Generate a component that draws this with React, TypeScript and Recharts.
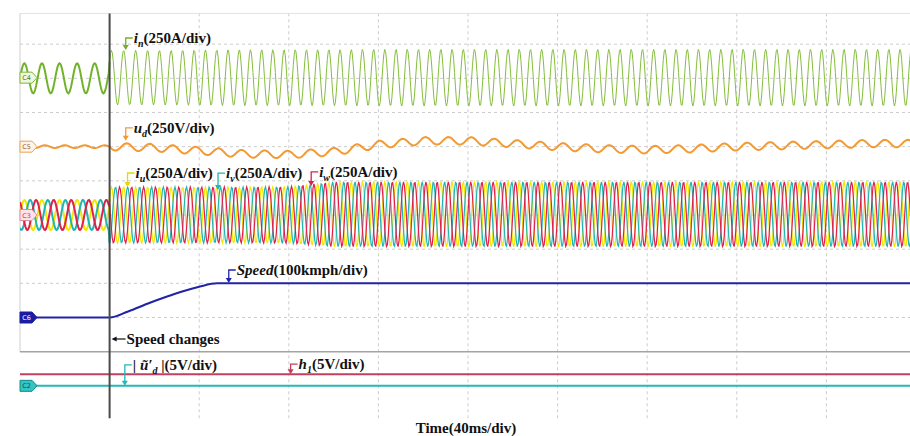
import React from 'react';
import { LineChart, Line, XAxis, YAxis, ReferenceLine } from 'recharts';

// time axis in divisions (40ms/div), y axis in divisions; speed step at t = 1 div
const KNOTS = [0, 1, 1, 1.5, 2, 2.5, 3, 3.5, 4, 4.5, 5, 5.5, 6, 6.5, 7, 7.5, 8, 8.5, 9, 9.5, 10];

// C4: i_n envelope
const inCenter = [8, 8, 8.02, 8.02, 8.02, 8.02, 8.02, 8.02, 8.02, 8.02, 8.02, 8.02, 8.02, 8.02, 8.02, 8.02, 8.02, 8.02, 8.02, 8.02, 8.02];
const inAmp = [0.44, 0.44, 0.8, 0.8, 0.81, 0.82, 0.82, 0.82, 0.83, 0.83, 0.83, 0.83, 0.83, 0.83, 0.83, 0.83, 0.83, 0.83, 0.83, 0.83, 0.83];

// current frequency, cycles per division
const curFreq = [5.1, 5.1, 7.3, 7.6, 7.9, 8, 8, 8, 8, 8, 8, 8, 8, 8, 8, 8, 8, 8, 8, 8, 8];

// C3: i_u, i_v, i_w envelope
const phCenter = [4, 4, 4, 4, 4, 4, 4, 4.02, 4.02, 4.02, 4.02, 4.02, 4.02, 4.02, 4.02, 4.02, 4.02, 4.02, 4.02, 4.02, 4.02];
const phAmp = [0.44, 0.44, 0.82, 0.82, 0.82, 0.82, 0.83, 0.95, 0.95, 0.95, 0.95, 0.95, 0.95, 0.95, 0.95, 0.95, 0.95, 0.95, 0.95, 0.95, 0.95];

// C5: u_d
const udCenter = [6, 6, 6, 5.97, 5.88, 5.79, 5.77, 5.85, 6.06, 6.17, 6.17, 6.09, 6, 5.94, 5.91, 5.94, 6, 6.03, 6.06, 6.09, 6.09];
const udAmp = [0.04, 0.04, 0.11, 0.11, 0.11, 0.11, 0.11, 0.11, 0.11, 0.11, 0.11, 0.11, 0.11, 0.11, 0.11, 0.11, 0.11, 0.11, 0.11, 0.11, 0.11];
const udFreq = [4.5, 4.5, 3.9, 3.9, 3.9, 3.9, 3.9, 3.9, 3.9, 3.9, 3.9, 3.9, 3.9, 3.9, 3.9, 3.9, 3.9, 3.9, 3.9, 3.9, 3.9];

// C6: speed readings
const speedT = [0, 1, 1.2, 1.45, 1.65, 1.82, 2, 2.2, 2.4, 10];
const speedV = [1, 1, 1.17, 1.43, 1.62, 1.77, 1.9, 2, 2, 2];

// bottom pane: |u_d'| (C2) and h1
const flatT = [0, 10];
const udAbsV = [-1, -1];
const h1V = [-0.66, -0.66];

const W = 920;
const H = 436;
const M = { top: 10, right: 4, bottom: 16, left: 20 };
const Y_MIN = -2;
const Y_MAX = 10;
const px = (d: number) => M.left + (d / 10) * (W - M.left - M.right);
const py = (u: number) => M.top + ((Y_MAX - u) / (Y_MAX - Y_MIN)) * (H - M.top - M.bottom);

const lerp = (xs: number[], ys: number[], x: number) => {
    let i = 0;
    while (i < xs.length - 2 && xs[i + 1] <= x) i++;
    const x0 = xs[i];
    const x1 = xs[i + 1];
    const t = x1 === x0 ? 0 : Math.max(0, Math.min(1, (x - x0) / (x1 - x0)));
    return ys[i] + (ys[i + 1] - ys[i]) * t;
};

const wave = (center: number[], amp: number[], freq: number[], offset: number, from: number, to: number) => {
    const pts: { x: number; y: number }[] = [];
    let phase = 0;
    for (let i = 0; i <= 1000; i++) {
        const x = i / 100;
        if (x >= from && x <= to) {
            pts.push({ x, y: lerp(KNOTS, center, x) + lerp(KNOTS, amp, x) * Math.sin(phase + offset) });
        }
        phase += 2 * Math.PI * lerp(KNOTS, freq, x) * 0.01;
    }
    return pts;
};

const pairs = (xs: number[], ys: number[]) => xs.map((x, i) => ({ x, y: ys[i] }));

const TP = (2 * Math.PI) / 3;
const series = [
    { key: 'inPre', data: wave(inCenter, inAmp, curFreq, 0, 0, 1), color: '#72b22a', w: 2, type: 'linear' },
    { key: 'inPost', data: wave(inCenter, inAmp, curFreq, 0, 1, 10), color: '#86be3c', w: 1, type: 'linear' },
    { key: 'udPre', data: wave(udCenter, udAmp, udFreq, 0, 0, 1), color: '#f39a33', w: 2, type: 'linear' },
    { key: 'udPost', data: wave(udCenter, udAmp, udFreq, 0, 1, 10), color: '#f39a33', w: 2, type: 'linear' },
    { key: 'iuPre', data: wave(phCenter, phAmp, curFreq, 0, 0, 1), color: '#f3e600', w: 2, type: 'linear' },
    { key: 'ivPre', data: wave(phCenter, phAmp, curFreq, -TP, 0, 1), color: '#20b4b4', w: 2, type: 'linear' },
    { key: 'iwPre', data: wave(phCenter, phAmp, curFreq, TP, 0, 1), color: '#e0204c', w: 2, type: 'linear' },
    { key: 'iuPost', data: wave(phCenter, phAmp, curFreq, 0, 1, 10), color: '#f3e600', w: 1.2, type: 'linear' },
    { key: 'ivPost', data: wave(phCenter, phAmp, curFreq, -TP, 1, 10), color: '#20b4b4', w: 1.2, type: 'linear' },
    { key: 'iwPost', data: wave(phCenter, phAmp, curFreq, TP, 1, 10), color: '#e0204c', w: 1.2, type: 'linear' },
    { key: 'speed', data: pairs(speedT, speedV), color: '#2323a8', w: 2, type: 'monotone' },
    { key: 'h1', data: pairs(flatT, h1V), color: '#c2405e', w: 2, type: 'linear' },
    { key: 'udAbs', data: pairs(flatT, udAbsV), color: '#22b8b8', w: 2, type: 'linear' },
];

const GRID = [1, 2, 3, 4, 5, 6, 7, 8, 9];
const gridStyle = { stroke: '#cccccc', strokeDasharray: '3 3', strokeWidth: 1 };

const badges = [
    { name: 'C4', u: 8.02, fill: '#eef7e4', stroke: '#7cb82f', text: '#4c7a1a' },
    { name: 'C5', u: 6, fill: '#fff4ea', stroke: '#f0a050', text: '#a0602a' },
    { name: 'C3', u: 4, fill: '#fde2e8', stroke: '#e48aa0', text: '#c04060' },
    { name: 'C6', u: 1, fill: '#1c1ca0', stroke: '#1c1ca0', text: '#ffffff' },
    { name: 'C2', u: -1, fill: '#33c4c4', stroke: '#138a8a', text: '#0b4f4f' },
];

const font = '"Liberation Serif", "Times New Roman", serif';
const FS = 15;

const Pointer = ({ d, u, rise, color, children }: { d: number; u: number; rise: number; color: string; children: React.ReactNode }) => {
    const x = px(d);
    const y = py(u);
    const top = y - rise;
    return (
        <g>
            <polyline points={`${x + 7},${top} ${x},${top} ${x},${y - 3}`} fill="none" stroke={color} strokeWidth={1.3} />
            <polygon points={`${x - 3},${y - 5} ${x + 3},${y - 5} ${x},${y}`} fill={color} />
            <text x={x + 8} y={top + 5} fontFamily={font} fontWeight="bold" fontSize={FS} fill="#111">
                {children}
            </text>
        </g>
    );
};

const Overlay = () => (
    <svg width={910} height={H} style={{ position: 'absolute', left: 0, top: 0, pointerEvents: 'none' }}>
        {badges.map(b => {
            const y = py(b.u);
            return (
                <g key={b.name}>
                    <polygon
                        points={`20,${y - 5.5} 32,${y - 5.5} 37,${y} 32,${y + 5.5} 20,${y + 5.5}`}
                        fill={b.fill}
                        stroke={b.stroke}
                        strokeWidth={1}
                    />
                    <text x={26.5} y={y + 2.5} textAnchor="middle" fontFamily="DejaVu Sans, sans-serif" fontSize={6.5} fill={b.text}>
                        {b.name}
                    </text>
                </g>
            );
        })}
        <Pointer d={1.18} u={8.83} rise={12} color="#72b22a">
            <tspan fontStyle="italic">i</tspan>
            <tspan fontStyle="italic" fontSize={10} dy={4}>n</tspan>
            <tspan dy={-4}>(250A/div)</tspan>
        </Pointer>
        <Pointer d={1.18} u={6.17} rise={13} color="#f39a33">
            <tspan fontStyle="italic">u</tspan>
            <tspan fontStyle="italic" fontSize={10} dy={4}>d</tspan>
            <tspan dy={-4}>(250V/div)</tspan>
        </Pointer>
        <Pointer d={1.2} u={4.82} rise={14} color="#e8d800">
            <tspan fontStyle="italic">i</tspan>
            <tspan fontStyle="italic" fontSize={10} dy={4}>u</tspan>
            <tspan dy={-4}>(250A/div)</tspan>
        </Pointer>
        <Pointer d={2.21} u={4.73} rise={17} color="#20b4b4">
            <tspan fontStyle="italic">i</tspan>
            <tspan fontStyle="italic" fontSize={10} dy={4}>v</tspan>
            <tspan dy={-4}>(250A/div)</tspan>
        </Pointer>
        <Pointer d={3.25} u={4.85} rise={14} color="#e0204c">
            <tspan fontStyle="italic">i</tspan>
            <tspan fontStyle="italic" fontSize={10} dy={4}>w</tspan>
            <tspan dy={-4}>(250A/div)</tspan>
        </Pointer>
        <Pointer d={2.33} u={2.01} rise={13} color="#2323a8">
            <tspan fontStyle="italic">Speed</tspan>
            <tspan>(100kmph/div)</tspan>
        </Pointer>
        <Pointer d={1.17} u={-1} rise={21} color="#22b8b8">
            <tspan>| </tspan>
            <tspan fontStyle="italic">ũ′</tspan>
            <tspan fontStyle="italic" fontSize={10} dy={4}>d</tspan>
            <tspan dy={-4}> |(5V/div)</tspan>
        </Pointer>
        <Pointer d={3.02} u={-0.66} rise={10} color="#c2405e">
            <tspan fontStyle="italic">h</tspan>
            <tspan fontStyle="italic" fontSize={10} dy={4}>1</tspan>
            <tspan dy={-4}>(5V/div)</tspan>
        </Pointer>
        <g>
            <line x1={px(1) + 16} y1={339} x2={px(1) + 4} y2={339} stroke="#111" strokeWidth={1.2} />
            <polygon points={`${px(1) + 2},339 ${px(1) + 7},336.5 ${px(1) + 7},341.5`} fill="#111" />
            <text x={px(1) + 17} y={344} fontFamily={font} fontWeight="bold" fontSize={FS} fill="#111">
                Speed changes
            </text>
        </g>
        <text x={466} y={433} textAnchor="middle" fontFamily={font} fontWeight="bold" fontSize={FS} fill="#111">
            Time(40ms/div)
        </text>
    </svg>
);

const App: React.FC = () => {
    return (
        <div style={{ position: 'absolute', left: 0, top: 0, width: 910, height: H, overflow: 'hidden', background: '#fff' }}>
            <LineChart width={W} height={H} margin={M}>
                <XAxis type="number" dataKey="x" domain={[0, 10]} hide allowDataOverflow />
                <YAxis type="number" dataKey="y" domain={[Y_MIN, Y_MAX]} hide allowDataOverflow />
                {GRID.map(k => (
                    <ReferenceLine key={`v${k}`} segment={[{ x: k, y: -1.95 }, { x: k, y: 9.9 }]} {...gridStyle} />
                ))}
                {GRID.map(k => (
                    <ReferenceLine key={`h${k}`} segment={[{ x: 0, y: k }, { x: 10, y: k }]} {...gridStyle} />
                ))}
                <ReferenceLine segment={[{ x: 0, y: 9.9 }, { x: 10, y: 9.9 }]} stroke="#e2e2e2" strokeWidth={1} />
                <ReferenceLine segment={[{ x: 0, y: 0 }, { x: 0, y: 9.9 }]} stroke="#cfcfcf" strokeWidth={1} />
                <ReferenceLine segment={[{ x: 0, y: 0 }, { x: 10, y: 0 }]} stroke="#a3a3a3" strokeWidth={1.5} />
                {series.map(s => (
                    <Line
                        key={s.key}
                        data={s.data}
                        dataKey="y"
                        type={s.type as 'linear' | 'monotone'}
                        stroke={s.color}
                        strokeWidth={s.w}
                        dot={false}
                        activeDot={false}
                        isAnimationActive={false}
                    />
                ))}
                <ReferenceLine segment={[{ x: 1, y: -1.95 }, { x: 1, y: 9.9 }]} stroke="#4a4a4a" strokeWidth={2} />
            </LineChart>
            <Overlay />
        </div>
    );
};

export default App;
